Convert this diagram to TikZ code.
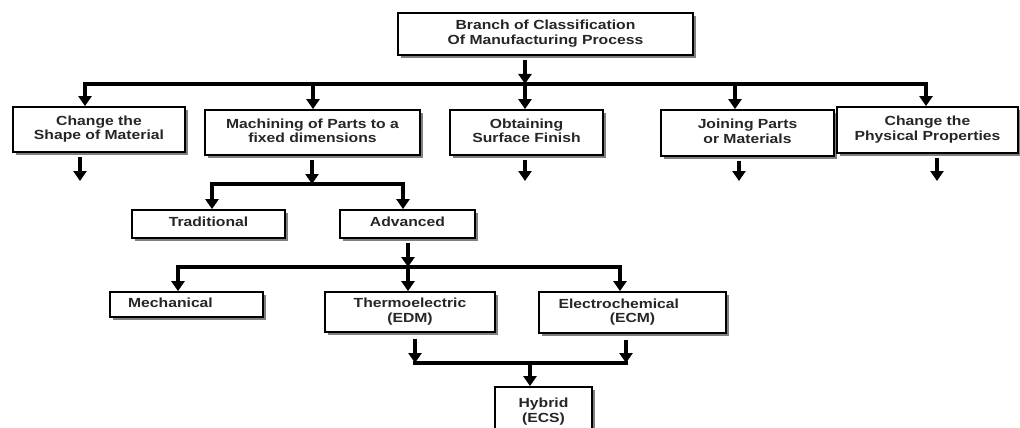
\documentclass[tikz,border=0pt]{standalone}
\usepackage{fontspec}
\setmainfont{Liberation Sans}
\usepackage{graphicx}
\usetikzlibrary{arrows.meta,shadows}

\newcommand{\wide}[1]{\scalebox{1.19}[1]{\begin{tabular}{@{}c@{}}#1\end{tabular}}}

\tikzset{
  box/.style={draw, line width=1.8pt, fill=white, inner sep=0pt, text=black!85,
    drop shadow={shadow xshift=3pt, shadow yshift=-3pt, fill=black!50, opacity=1},
    font=\fontsize{13.2}{14.5}\selectfont\bfseries},
  bus/.style={line width=3.2pt, line cap=rect},
  arr/.style={line width=3.2pt, -{Triangle[width=13pt,length=10pt]}},
  arrgap/.style={arr, shorten <=4pt},
}

\begin{document}
\begin{tikzpicture}[x=1pt,y=-1pt]
    \useasboundingbox (0,0) rectangle (1020,428);

    \node[box, minimum width=295, minimum height=42] (root) at (545.5,34) {\wide{Branch of Classification\\Of Manufacturing Process}};

    \node[box, minimum width=172, minimum height=45] (shape) at (99,129.5) {\wide{Change the\\Shape of Material}};
    \node[box, minimum width=215, minimum height=45] (machining) at (312.5,132.5) {\wide{Machining of Parts to a\\fixed dimensions}};
    \node[box, minimum width=153, minimum height=45] (surface) at (526.5,132.5) {\wide{Obtaining\\Surface Finish}};
    \node[box, minimum width=173, minimum height=46] (joining) at (747.5,133) {\wide{Joining Parts\\or Materials}};
    \node[box, minimum width=181, minimum height=46] (physical) at (927.5,130) {\wide{Change the\\Physical Properties}};

    \node[box, minimum width=153, minimum height=28] (trad) at (208.5,224) {\wide{Traditional}};
    \node[box, minimum width=135, minimum height=28] (adv) at (407.5,224) {\wide{Advanced}};

    \node[box, minimum width=153, minimum height=25] (mech) at (186.5,304.5) {\wide{Mechanical}\hspace*{32pt}};
    \node[box, minimum width=170, minimum height=40] (edm) at (410,312) {\wide{Thermoelectric\\(EDM)}};
    \node[box, minimum width=187, minimum height=41] (ecm) at (632.5,312.5) {\wide{Electrochemical\hspace*{23pt}\\(ECM)}};

    \node[box, minimum width=97, minimum height=50] (hybrid) at (543.5,412) {\wide{Hybrid\\(ECS)}};

    % first level
    \coordinate (b1) at (525,84);
    \draw[arrgap] (root.south -| b1) -- (b1);
    \foreach \name/\x in {shape/85, machining/313, surface/525, joining/735, physical/926} {
        \coordinate (t\name) at (\x,84);
        \draw[arr] (t\name) -- (t\name |- \name.north);
    }
    \draw[bus] (tshape) -- (tphysical);

    \foreach \name/\x in {shape/80, surface/525, joining/739, physical/937} {
        \coordinate (e\name) at (\x,181);
        \draw[arrgap] (e\name |- \name.south) -- (e\name);
    }

    % machining
    \coordinate (b2) at (312,184);
    \draw[arrgap] (b2 |- machining.south) -- (b2);
    \foreach \name/\x in {trad/212, adv/403} {
        \coordinate (t\name) at (\x,184);
        \draw[arr] (t\name) -- (t\name |- \name.north);
    }
    \draw[bus] (ttrad) -- (tadv);

    % advanced
    \coordinate (b3) at (408,267);
    \draw[arrgap] (b3 |- adv.south) -- (b3);
    \foreach \name/\x in {mech/178, edm/408, ecm/620} {
        \coordinate (t\name) at (\x,267);
        \draw[arr] (t\name) -- (t\name |- \name.north);
    }
    \draw[bus] (tmech) -- (tecm);

    % hybrid
    \foreach \name/\x in {edm/415, ecm/626} {
        \coordinate (j\name) at (\x,363);
        \draw[arrgap, shorten <=6pt] (j\name |- \name.south) -- (j\name);
    }
    \draw[bus] (jedm) -- (jecm);
    \coordinate (b4) at (530,363);
    \draw[arr] (b4) -- (b4 |- hybrid.north);
\end{tikzpicture}
\end{document}
